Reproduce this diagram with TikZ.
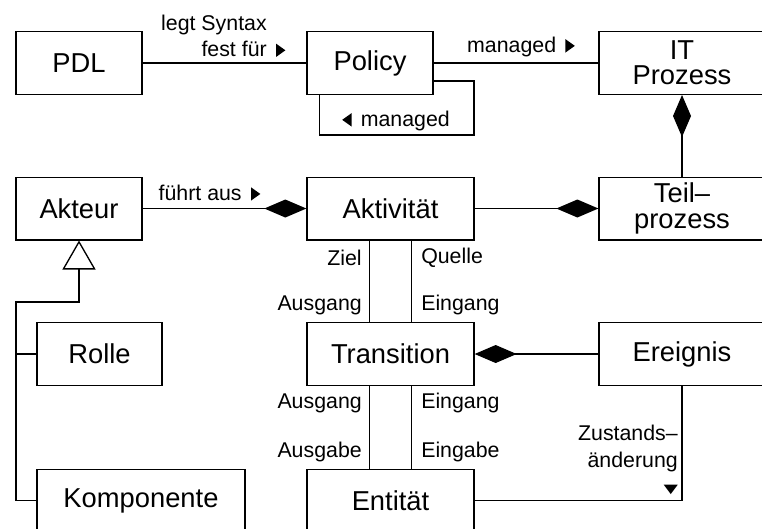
\documentclass[tikz,border=0pt]{standalone}
\usepackage{fontspec}
\setmainfont{Liberation Sans}
\usetikzlibrary{arrows.meta}

\newcommand{\pfeilrechts}{\tikz\fill (0,0)--(0,10pt)--(7pt,5pt)--cycle;}
\newcommand{\pfeillinks}{\tikz\fill (0,5pt)--(7pt,10pt)--(7pt,0)--cycle;}
\newcommand{\pfeilunten}{\tikz\fill (0,7pt)--(10.5pt,7pt)--(5.25pt,0)--cycle;}

\begin{document}
\begin{tikzpicture}[
  x=.75pt,y=-.75pt,
  klasse/.style={draw=black,line width=1pt,minimum height=47pt,inner sep=0pt,
    align=center,font=\fontsize{20.5}{19}\selectfont},
  verb/.style={draw=black,line width=1pt},
  beschr/.style={inner sep=0pt,font=\fontsize{16}{20}\selectfont},
  komp/.style={-{Diamond[length=31.5pt,width=13.5pt]}},
  erb/.style={-{Triangle[open,length=21.75pt,width=24.75pt]}}
]
  \useasboundingbox (0,0) rectangle (762,528);
  \clip (0,0) rectangle (762,528);

  \node[klasse,minimum width=94.5pt] (pdl) at (79,63) {PDL};
  \node[klasse,minimum width=94.5pt] (policy) at (370,63) {Policy};
  \node[klasse,minimum width=124.5pt] (itprozess) at (682,63) {IT\\Prozess};
  \node[klasse,minimum width=94.5pt] (akteur) at (79,208.5) {Akteur};
  \node[klasse,minimum width=125.25pt] (aktivitaet) at (390.5,208.5) {Aktivität};
  \node[klasse,minimum width=124.5pt] (teilprozess) at (682,208.5) {Teil–\\prozess};
  \node[klasse,minimum width=93.75pt] (rolle) at (99.5,354) {Rolle};
  \node[klasse,minimum width=125.25pt] (transition) at (390.5,354) {Transition};
  \node[klasse,minimum width=124.5pt] (ereignis) at (682,354) {Ereignis};
  \node[klasse,minimum width=156pt] (komponente) at (141,500.5) {Komponente};
  \node[klasse,minimum width=125.25pt] (entitaet) at (390.5,500.5) {Entität};

  \coordinate (schleife) at (474,135);
  \coordinate (knick) at (16,302);

  \draw[verb] (pdl) -- (policy);
  \draw[verb] (policy) -- (itprozess);
  \draw[verb] ([yshift=-13.5pt]policy.east) -| (schleife)
    -| ([xshift=9.75pt]policy.south west);
  \draw[verb,komp] (teilprozess) -- (itprozess);
  \draw[verb,komp] (akteur) -- (aktivitaet);
  \draw[verb,komp] (aktivitaet) -- (teilprozess);
  \draw[verb,komp] (ereignis) -- (transition);
  \draw[verb] ([xshift=-15.75pt]aktivitaet.south) -- ([xshift=-15.75pt]transition.north);
  \draw[verb] ([xshift=15.75pt]aktivitaet.south) -- ([xshift=15.75pt]transition.north);
  \draw[verb] ([xshift=-15.75pt]transition.south) -- ([xshift=-15.75pt]entitaet.north);
  \draw[verb] ([xshift=15.75pt]transition.south) -- ([xshift=15.75pt]entitaet.north);
  \draw[verb] (ereignis.south) |- (entitaet.east);
  \draw[verb,erb] (komponente.west) -| (knick) -| (akteur.south);
  \draw[verb] (rolle.west) -- (rolle.west -| knick);

  \node[beschr,align=right,anchor=east] (l-syntax) at (267,36)
    {legt Syntax\\fest für\rlap{\hspace{7pt}\pfeilrechts}};
  \node[beschr] (l-managed) at (521,47) {managed\hspace{7pt}\pfeilrechts};
  \node[beschr] (l-selbst) at (396,121) {\pfeillinks\hspace{7pt}managed};
  \node[beschr] (l-fuehrt) at (209.5,193) {führt aus\hspace{7pt}\pfeilrechts};
  \node[beschr,anchor=east] (l-ziel) at (362,258) {Ziel};
  \node[beschr,anchor=east] (l-ausgang1) at (362,305) {Ausgang};
  \node[beschr,anchor=west] (l-quelle) at (421,258) {Quelle};
  \node[beschr,anchor=west] (l-eingang1) at (421,305) {Eingang};
  \node[beschr,anchor=east] (l-ausgang2) at (362,403) {Ausgang};
  \node[beschr,anchor=east] (l-ausgabe) at (362,452) {Ausgabe};
  \node[beschr,anchor=west] (l-eingang2) at (421,403) {Eingang};
  \node[beschr,anchor=west] (l-eingabe) at (421,452) {Eingabe};
  \node[beschr,align=right,anchor=north east] (l-zustand) at (678,425)
    {Zustands–\\änderung\\\pfeilunten\hspace{4pt}};
\end{tikzpicture}
\end{document}
